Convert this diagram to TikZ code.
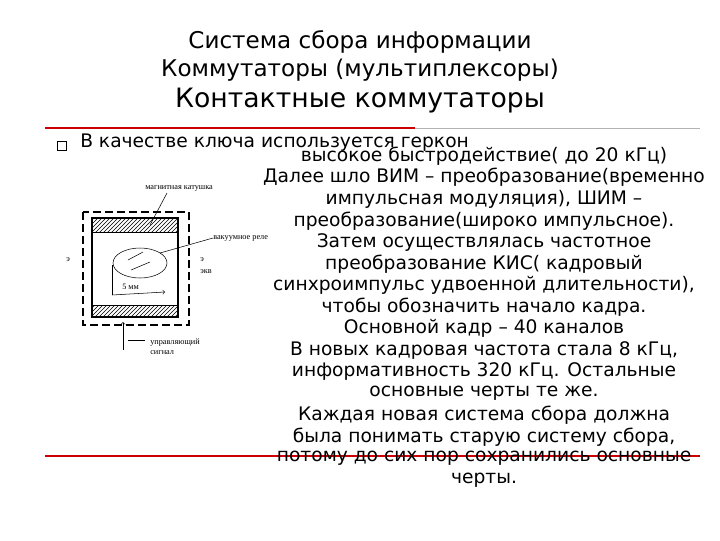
\documentclass[tikz,border=0pt]{standalone}
\usepackage{fontspec}
\setmainfont{DejaVu Sans}
\newfontfamily\serfont{Liberation Serif}
\usetikzlibrary{patterns}
\begin{document}
\begin{tikzpicture}[x=0.75pt,y=-0.75pt,
  rt/.style={font=\fontsize{14}{15}\selectfont,anchor=center,inner sep=0pt},
  sm/.style={font=\serfont\fontsize{6.2}{7}\selectfont,inner sep=0pt,anchor=west},
  ttl/.style={font=\fontsize{17.3}{19}\selectfont,inner sep=0pt}]
\useasboundingbox (0,0) rectangle (720,540);
% figure
\fill[white] (62,175) rectangle (290,365);
\draw[dash pattern=on 6pt off 3pt,thick] (83,212) rectangle (189,325);
\draw[thick] (92,218) rectangle (178,317);
\draw[pattern=north east lines] (92,218) rectangle (178,232);
\draw[pattern=north east lines] (92,305) rectangle (178,317);
\draw (140,263) ellipse (27 and 15);
\draw (128,260) -- (143,252);
\draw (131,270) -- (150,262);
\draw (112,265) -- (112,295);
\draw[->] (112,295) -- (165,292);
\node[sm] (mm) at (122,287) {5 мм};
\node[sm] (l1) at (145,188) {магнитная катушка};
\draw (167,193) -- (150,225);
\node[sm] (l2) at (213,238) {вакуумное реле};
\draw (213,238) -- (160,253);
\node[sm] (e1) at (66,260) {э};
\node[sm] (e2) at (200,260) {э};
\node[sm] (e3) at (200,272) {экв};
\draw[->] (123,350) -- (123,322);
\draw (128,340) -- (145,340);
\node[sm] (u1) at (150,343) {управляющий};
\node[sm] (u2) at (150,353) {сигнал};
% text
\node[ttl] (t1) at (360,42) {Система сбора информации};
\node[ttl] (t2) at (360,70) {Коммутаторы (мультиплексоры)};
\node[font=\fontsize{20}{22}\selectfont,inner sep=0pt] (t3) at (360,101) {Контактные коммутаторы};
\draw[red!80!black,line width=1.5pt] (45,128) -- (415,128);
\draw[gray!60] (415,128) -- (700,128);
\draw[red!80!black,line width=1pt] (45,456) -- (700,456);
\node[draw,minimum size=6.5pt,inner sep=0pt] (bul) at (62,146) {};
\node[rt,anchor=west] (k) at (80,143) {В качестве ключа используется геркон};
\foreach \i/\s in {0/{высокое быстродействие( до 20 кГц)},1/{Далее шло ВИМ – преобразование(временно},2/{импульсная модуляция), ШИМ –},3/{преобразование(широко импульсное).},4/{Затем осуществлялась частотное},5/{преобразование КИС( кадровый},6/{синхроимпульс удвоенной длительности),},7/{чтобы обозначить начало кадра.},8/{Основной кадр – 40 каналов},9/{В новых кадровая частота стала 8 кГц,},10/{информативность 320 кГц. Остальные},11/{основные  черты те же.},12/{Каждая новая  система сбора  должна},13/{была понимать  старую систему сбора,},14/{потому до сих пор сохранились основные},15/{черты.}}
  \node[rt] (r\i) at (484,{156+21.6*\i}) {\s};
\end{tikzpicture}
\end{document}
